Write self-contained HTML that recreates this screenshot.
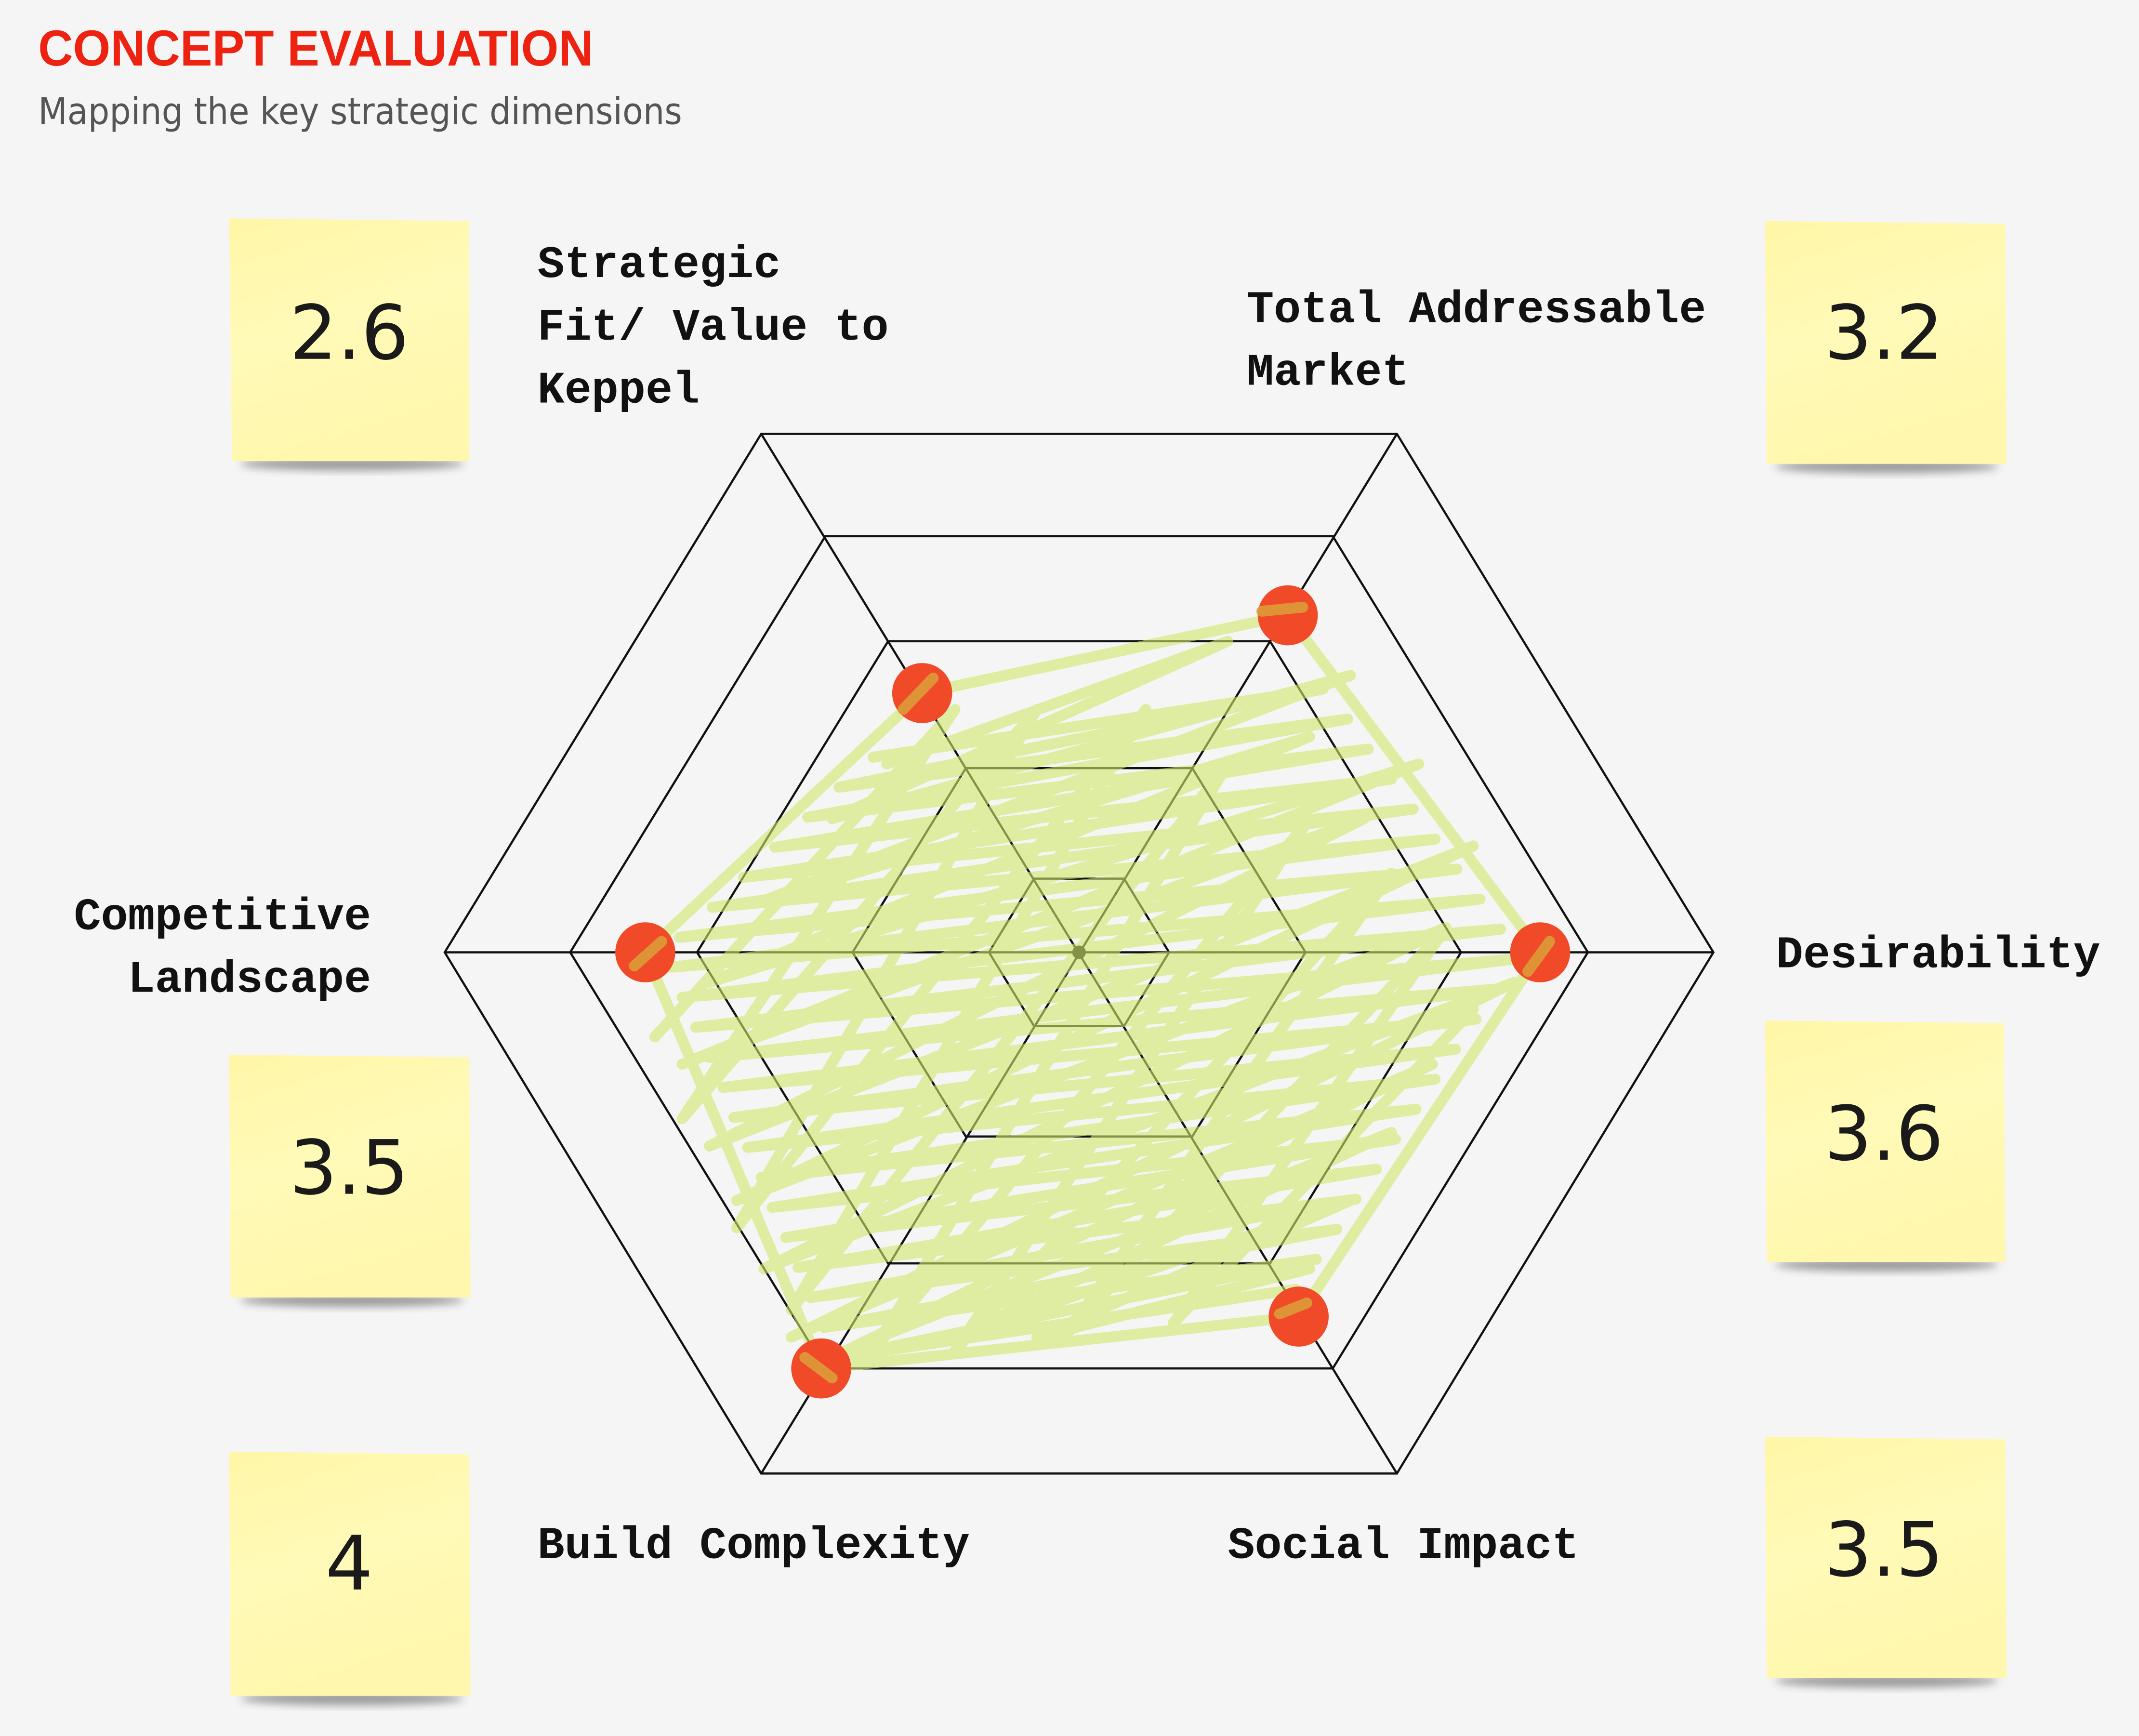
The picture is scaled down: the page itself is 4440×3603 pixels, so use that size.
<!DOCTYPE html>
<html><head><meta charset="utf-8"><style>
html,body{margin:0;padding:0;background:#f5f5f5;}
svg{display:block;}
</style></head><body>
<svg width="4440" height="3603" viewBox="0 0 1568 1272.4" xmlns="http://www.w3.org/2000/svg">
<defs>
<linearGradient id="ny" x1="0" y1="0" x2="0.3" y2="1">
<stop offset="0" stop-color="#fff6a6"/><stop offset="0.5" stop-color="#fffab8"/><stop offset="1" stop-color="#fff7ad"/>
</linearGradient>
<filter id="sh" x="-20%" y="-20%" width="140%" height="160%"><feGaussianBlur stdDeviation="3"/></filter>
</defs>
<rect width="1568" height="1272.4" fill="#f5f5f5"/>
<text x="28" y="48" font-family="Liberation Sans, sans-serif" font-weight="bold" font-size="37" fill="#ee2211" textLength="407" lengthAdjust="spacingAndGlyphs">CONCEPT EVALUATION</text>
<text x="28" y="91" font-family="DejaVu Sans, Liberation Sans, sans-serif" font-size="27" fill="#555" textLength="472" lengthAdjust="spacingAndGlyphs">Mapping the key strategic dimensions</text>

<g>
<g><ellipse cx="258" cy="340" rx="82" ry="5" fill="#333" opacity="0.45" filter="url(#sh)"/><polygon points="168,160 344,162 344,338 170,338" fill="url(#ny)"/></g>
<g><ellipse cx="1383" cy="342" rx="82" ry="5" fill="#333" opacity="0.45" filter="url(#sh)"/><polygon points="1294,162 1470,164 1471,340 1295,340" fill="url(#ny)"/></g>
<g><ellipse cx="258" cy="953" rx="82" ry="5" fill="#333" opacity="0.45" filter="url(#sh)"/><polygon points="168,773 344,775 345,951 169,951" fill="url(#ny)"/></g>
<g><ellipse cx="1383" cy="927" rx="82" ry="5" fill="#333" opacity="0.45" filter="url(#sh)"/><polygon points="1294,748 1469,750 1470,925 1295,925" fill="url(#ny)"/></g>
<g><ellipse cx="258" cy="1245" rx="82" ry="5" fill="#333" opacity="0.45" filter="url(#sh)"/><polygon points="168,1064 344,1066 345,1243 169,1243" fill="url(#ny)"/></g>
<g><ellipse cx="1383" cy="1232" rx="82" ry="5" fill="#333" opacity="0.45" filter="url(#sh)"/><polygon points="1294,1053 1470,1055 1471,1230 1295,1230" fill="url(#ny)"/></g>
</g>
<g font-family="DejaVu Sans, Liberation Sans, sans-serif" font-size="55" fill="#1a1a1a" text-anchor="middle">
<text x="256" y="263">2.6</text>
<text x="1381" y="263">3.2</text>
<text x="256" y="875">3.5</text>
<text x="1381" y="850">3.6</text>
<text x="256" y="1165">4</text>
<text x="1381" y="1155">3.5</text>
</g>

<g fill="none" stroke="#111" stroke-width="1.6">
<polygon points="326,698 558,318 1024,318 1256,698 1024,1080 558,1080"/>
<polygon points="418,698 605,393 977,393 1164,698 977,1003 605,1003"/>
<polygon points="511,698 651,470 931,470 1071,698 931,926 651,926"/>
<polygon points="625,698 708,563 874,563 957,698 874,833 708,833"/>
<polygon points="725,698 758,644 824,644 857,698 824,752 758,752"/>
<line x1="326" y1="698" x2="1256" y2="698"/>
<line x1="558" y1="318" x2="1024" y2="1080"/>
<line x1="1024" y1="318" x2="558" y2="1080"/>
</g>
<circle cx="791" cy="698" r="5" fill="#111"/>

<g fill="none" stroke="#cfe86a" stroke-width="8" stroke-linecap="round" stroke-linejoin="round" opacity="0.6">
<path d="M676,508 L944,451 L1129,698 L952,965 L602,1003 L473,698 Z"/>
<path d="M640,555 L970,505 L615,577 L988,527 L592,599 L1003,549 L568,621 L1020,571 L545,643 L1036,593 L522,665 L1052,615 L498,687 L1068,637 L492,709 L1085,659 L500,731 L1100,681 L510,753 L1110,703 L520,775 L1096,725 L530,797 L1082,747 L538,819 L1067,769 L548,841 L1052,791 L558,863 L1038,813 L566,885 L1023,835 L576,907 L1009,857 L585,929 L994,879 L594,951 L980,901 L604,973 L965,923 L614,995 L950,945"/>
<path d="M650,560 L900,470 L610,600 L990,495 L560,660 L960,540 L520,720 L1040,560 L500,780 L1000,600 L520,840 L1080,620 L540,880 L1060,680 L560,930 L1110,720 L580,980 L1050,780 L620,990 L1020,830 L700,980 L990,880 L760,980 L960,930"/>
<path d="M480,760 L700,520 L500,820 L760,520 L540,900 L840,520 L580,960 L900,560 L640,990 L960,600 L700,990 L1020,640 L780,980 L1060,680 L860,970 L1080,740"/>
</g>
<g fill="#f04a28">
<circle cx="676" cy="508" r="22"/>
<circle cx="944" cy="451" r="22"/>
<circle cx="1129" cy="698" r="22"/>
<circle cx="952" cy="965" r="22"/>
<circle cx="602" cy="1003" r="22"/>
<circle cx="473" cy="698" r="22"/>
</g>
<g stroke="#dca03a" stroke-width="8" stroke-linecap="round" opacity="0.85">
<line x1="662" y1="520" x2="684" y2="497"/>
<line x1="925" y1="448" x2="955" y2="445"/>
<line x1="1120" y1="712" x2="1136" y2="690"/>
<line x1="938" y1="963" x2="958" y2="955"/>
<line x1="590" y1="995" x2="610" y2="1010"/>
<line x1="465" y1="708" x2="485" y2="690"/>
</g>

<g font-family="Liberation Mono, DejaVu Sans Mono, monospace" font-weight="bold" font-size="33" fill="#111">
<text x="394" y="203">Strategic</text>
<text x="394" y="249">Fit/ Value to</text>
<text x="394" y="295">Keppel</text>
<text x="914" y="236">Total Addressable</text>
<text x="914" y="282">Market</text>
<text x="1302" y="709">Desirability</text>
<text x="272" y="681" text-anchor="end">Competitive</text>
<text x="272" y="727" text-anchor="end">Landscape</text>
<text x="394" y="1142">Build Complexity</text>
<text x="900" y="1142">Social Impact</text>
</g>
</svg>
</body></html>
